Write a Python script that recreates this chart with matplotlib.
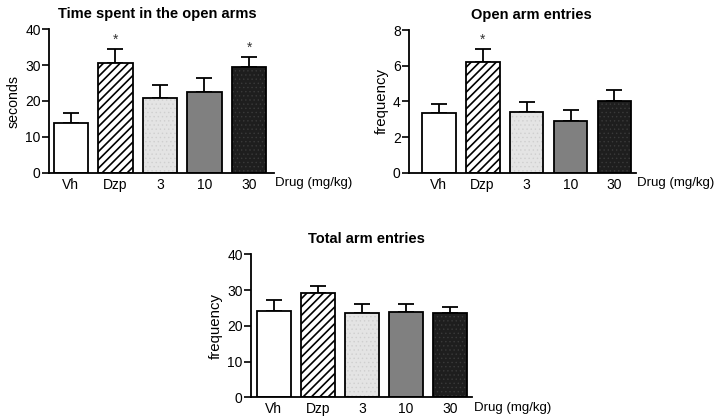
import matplotlib
matplotlib.use("Agg")
import matplotlib.pyplot as plt

plt.rcParams['font.family'] = ['Liberation Sans', 'DejaVu Sans']
plt.rcParams['hatch.linewidth'] = 1.2

categories = ["Vh", "Dzp", "3", "10", "30"]
colors = ["#ffffff", "#ffffff", "#e4e4e4", "#808080", "#1e1e1e"]
hatches = [None, "////", None, None, None]
textures = [None, None, "#cfcfcf", None, "#3a3a3a"]

time_mean = [13.8, 30.6, 20.7, 22.6, 29.4]
time_err = [2.8, 3.9, 3.7, 3.8, 3.0]
time_star = [False, True, False, False, True]

open_mean = [3.33, 6.19, 3.39, 2.92, 4.0]
open_err = [0.50, 0.76, 0.57, 0.60, 0.63]
open_star = [False, True, False, False, False]

total_mean = [24.1, 29.1, 23.5, 24.0, 23.5]
total_err = [3.1, 2.1, 2.6, 2.1, 1.8]
total_star = [False, False, False, False, False]

panels = [
    dict(rect=[49/719, 1-172.7/418, (274-49)/719, (172.7-29.3)/418],
         title="Time spent in the open arms", title_x=0.482, ylabel="seconds",
         ylsize=10.2,
         mean=time_mean, err=time_err, star=time_star, ymax=40, step=10,
         xlim=(-0.49, 4.56)),
    dict(rect=[409/719, 1-172.7/418, (636-409)/719, (172.7-30)/418],
         title="Open arm entries", title_x=0.537, ylabel="frequency",
         ylsize=10.8,
         mean=open_mean, err=open_err, star=open_star, ymax=8, step=2,
         xlim=(-0.675, 4.49)),
    dict(rect=[251/719, 1-397.3/418, (472.3-251)/719, (397.3-254.3)/418],
         title="Total arm entries", title_x=0.52, ylabel="frequency",
         ylsize=10.8,
         mean=total_mean, err=total_err, star=total_star, ymax=40, step=10,
         xlim=(-0.52, 4.5)),
]

fig = plt.figure(figsize=(7.19, 4.18), dpi=100)

for p in panels:
    ax = fig.add_axes(p["rect"])
    x = list(range(len(categories)))
    for i in x:
        ax.bar(i, p["mean"][i], width=0.77, color=colors[i], edgecolor="none",
               linewidth=0, zorder=2)
        if textures[i] is not None:
            with plt.rc_context({"hatch.linewidth": 0.5}):
                ax.bar(i, p["mean"][i], width=0.77, fill=False,
                       edgecolor=textures[i], linewidth=0, hatch="....",
                       zorder=2.5)
        ax.bar(i, p["mean"][i], width=0.77, fill=False, edgecolor="black",
               linewidth=1.3, hatch=hatches[i], zorder=3)
    ax.errorbar(x, p["mean"], yerr=[[0]*len(x), p["err"]], fmt="none",
                ecolor="black", elinewidth=1.3, capsize=5.5, capthick=1.3, zorder=1)
    for i in x:
        if p["star"][i]:
            ax.text(i, p["mean"][i] + p["err"][i] + p["ymax"]*0.015, "*",
                    ha="center", va="bottom", fontsize=10, color="#333333")
    ax.set_xlim(*p["xlim"])
    ax.set_ylim(0, p["ymax"])
    ax.set_yticks([p["step"]*k for k in range(5)])
    ax.set_xticks(x)
    ax.set_xticklabels(categories)
    ax.tick_params(axis="x", length=0, pad=3.5, labelsize=10)
    ax.tick_params(axis="y", length=5, width=1.2, labelsize=10, pad=1)
    for s in ["top", "right"]:
        ax.spines[s].set_visible(False)
    for s in ["left", "bottom"]:
        ax.spines[s].set_linewidth(1.3)
    ax.set_ylabel(p["ylabel"], fontsize=p["ylsize"], labelpad=3)
    ax.set_title(p["title"], fontsize=10.5, fontweight="bold", pad=8,
                 x=p["title_x"])
    ax.annotate("Drug (mg/kg)", xy=(1, 0), xycoords="axes fraction",
                xytext=(1, -7.5), textcoords="offset points",
                ha="left", va="center", fontsize=9.5)
    ax.patch.set_alpha(0)

fig.savefig("out.png", dpi=100)
